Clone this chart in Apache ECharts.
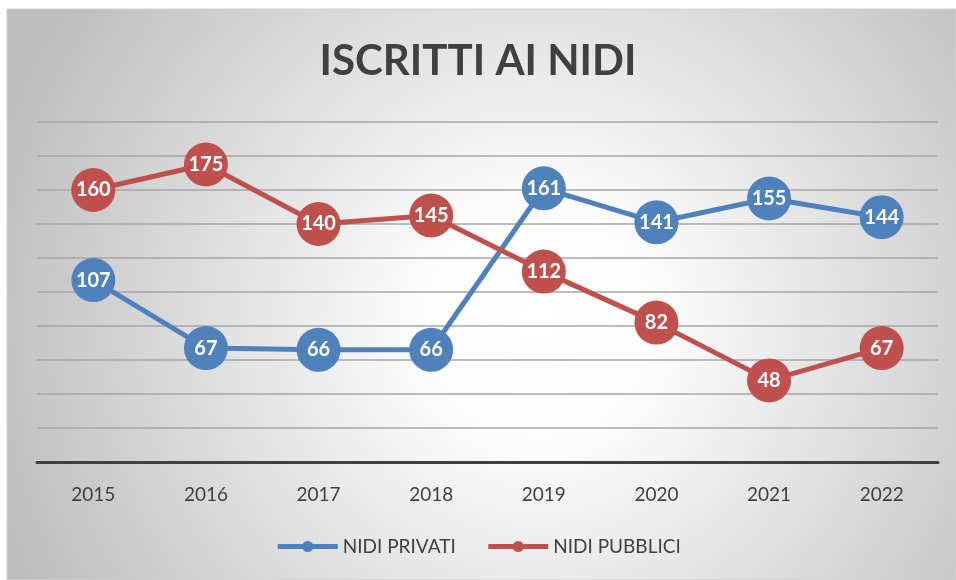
<!DOCTYPE html>
<html>
<head>
<meta charset="utf-8">
<script src="https://cdn.jsdelivr.net/npm/echarts@6/dist/echarts.min.js"></script>
<style>
  html, body { margin: 0; padding: 0; background: #ffffff; }
  #main { width: 956px; height: 580px; }
</style>
</head>
<body>
<div id="main"></div>
<script>
// dati
var anni = ['2015', '2016', '2017', '2018', '2019', '2020', '2021', '2022'];
var nidiPrivati = [107, 67, 66, 66, 161, 141, 155, 144];
var nidiPubblici = [160, 175, 140, 145, 112, 82, 48, 67];

var myChart = echarts.init(document.getElementById('main'));

var etichetta = {
    show: true,
    position: 'inside',
    color: '#ffffff',
    fontWeight: 'bold',
    fontSize: 20,
    fontFamily: 'Lato'
};

var option = {
    backgroundColor: '#ffffff',
    // sfondo con sfumatura radiale come nell'originale
    graphic: [{
        type: 'rect',
        z: -10,
        silent: true,
        shape: { x: 7, y: 9, width: 949, height: 571 },
        style: {
            fill: new echarts.graphic.RadialGradient(0.56, 0.55, 1.0, [
                { offset: 0, color: '#ffffff' },
                { offset: 0.2, color: '#fdfdfd' },
                { offset: 1, color: '#bdbdbd' }
            ]),
            stroke: '#d0d0d0',
            lineWidth: 1
        }
    }],
    title: {
        text: 'ISCRITTI AI NIDI',
        left: 'center',
        top: 35,
        textStyle: {
            fontFamily: 'Lato',
            fontWeight: 'bold',
            fontSize: 42,
            color: '#404040'
        }
    },
    legend: {
        bottom: 19,
        left: 'center',
        itemWidth: 60,
        itemHeight: 14,
        itemGap: 30,
        lineStyle: { width: 5 },
        textStyle: { fontFamily: 'Lato', fontSize: 19, color: '#404040' },
        data: ['NIDI PRIVATI', 'NIDI PUBBLICI']
    },
    grid: {
        left: 37,
        right: 18,
        top: 122,
        bottom: 118
    },
    xAxis: {
        type: 'category',
        boundaryGap: true,
        data: anni,
        axisLine: { lineStyle: { color: '#404040', width: 3 } },
        axisTick: { show: false },
        axisLabel: {
            margin: 23,
            fontFamily: 'Lato',
            fontSize: 19,
            color: '#404040'
        }
    },
    yAxis: {
        type: 'value',
        min: 0,
        max: 200,
        interval: 20,
        axisLine: { show: false },
        axisTick: { show: false },
        axisLabel: { show: false },
        splitLine: { lineStyle: { color: '#a6a6a6', width: 1.5 } }
    },
    series: [
        {
            name: 'NIDI PRIVATI',
            type: 'line',
            data: nidiPrivati,
            symbol: 'circle',
            symbolSize: 44,
            color: '#4f81bd',
            lineStyle: { width: 5, color: '#4f81bd' },
            itemStyle: { color: '#4f81bd' },
            label: etichetta
        },
        {
            name: 'NIDI PUBBLICI',
            type: 'line',
            data: nidiPubblici,
            symbol: 'circle',
            symbolSize: 44,
            color: '#c0504d',
            lineStyle: { width: 5, color: '#c0504d' },
            itemStyle: { color: '#c0504d' },
            label: etichetta
        }
    ]
};

myChart.setOption(option);
</script>
</body>
</html>
